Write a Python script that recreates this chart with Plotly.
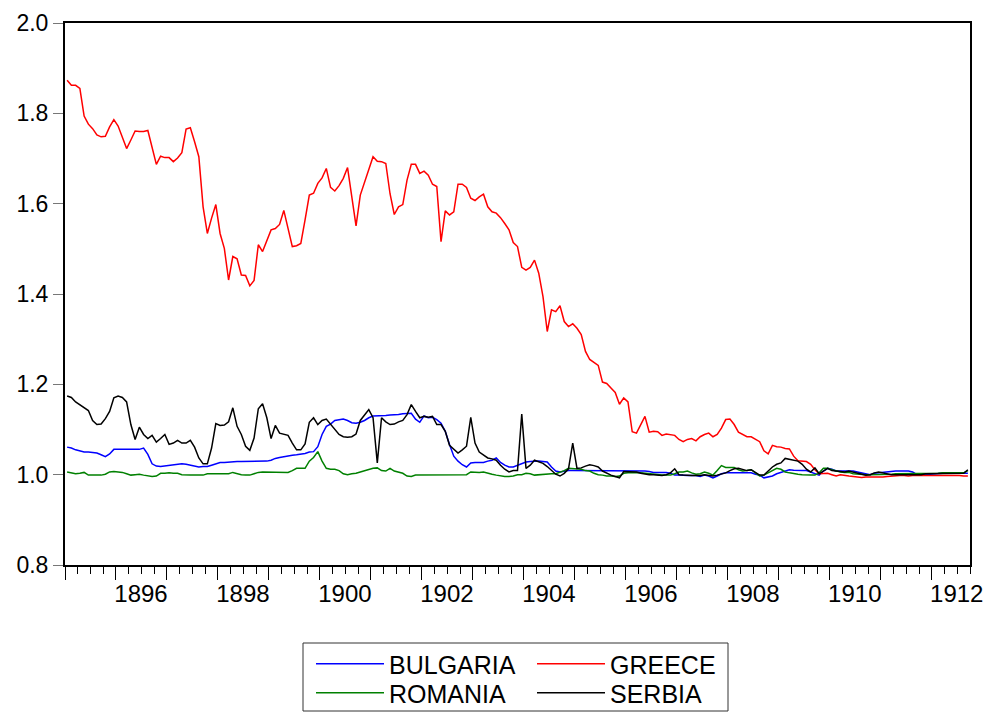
import plotly.graph_objects as go
import pandas as pd

# Monthly observations, 1895M01 - 1912M09
start_month = "1895-01"
end_month = "1912-09"

bulgaria = [
    1.061, 1.059, 1.055, 1.053, 1.050, 1.050, 1.049, 1.048, 1.044, 1.040, 1.046, 1.056,
    1.056, 1.056, 1.056, 1.056, 1.056, 1.056, 1.059, 1.045, 1.024, 1.019, 1.018, 1.019,
    1.021, 1.022, 1.023, 1.024, 1.023, 1.021, 1.019, 1.017, 1.018, 1.018, 1.021, 1.024,
    1.027, 1.027, 1.028, 1.029, 1.029, 1.029, 1.029, 1.029, 1.029, 1.029, 1.029, 1.030,
    1.032, 1.036, 1.038, 1.040, 1.041, 1.043, 1.044, 1.045, 1.047, 1.050, 1.051, 1.062,
    1.089, 1.107, 1.112, 1.120, 1.122, 1.123, 1.120, 1.115, 1.114, 1.116, 1.120, 1.126,
    1.130, 1.130, 1.130, 1.131, 1.132, 1.132, 1.133, 1.135, 1.136, 1.136, 1.123, 1.116,
    1.130, 1.126, 1.127, 1.122, 1.114, 1.096, 1.067, 1.041, 1.030, 1.022, 1.017, 1.026,
    1.027, 1.027, 1.027, 1.030, 1.032, 1.037, 1.027, 1.021, 1.017, 1.017, 1.021, 1.024,
    1.028, 1.029, 1.030, 1.030, 1.029, 1.028, 1.017, 1.008, 1.006, 1.008, 1.009, 1.009,
    1.009, 1.009, 1.009, 1.009, 1.009, 1.009, 1.009, 1.009, 1.009, 1.009, 1.009, 1.009,
    1.008, 1.008, 1.008, 1.008, 1.008, 1.007, 1.005, 1.005, 1.005, 1.005, 1.003, 0.999,
    0.999, 0.998, 0.998, 0.998, 0.998, 0.996, 0.999, 0.997, 0.993, 0.997, 1.002, 1.004,
    1.004, 1.004, 1.004, 1.004, 1.004, 1.004, 1.001, 0.999, 0.993, 0.995, 0.997, 1.002,
    1.005, 1.008, 1.011, 1.010, 1.009, 1.009, 1.009, 1.006, 1.002, 0.999, 1.008, 1.014,
    1.012, 1.008, 1.008, 1.008, 1.008, 1.008, 1.006, 1.004, 1.002, 1.000, 1.003, 1.004,
    1.005, 1.006, 1.008, 1.008, 1.008, 1.008, 1.008, 1.006, 1.000, 0.999, 1.000, 1.000,
    1.001, 1.002, 1.003, 1.003, 1.003, 1.003, 1.003, 1.003, 1.003,
]

greece = [
    1.873, 1.862, 1.862, 1.855, 1.794, 1.776, 1.766, 1.752, 1.748, 1.749, 1.770, 1.786,
    1.772, 1.748, 1.722, 1.741, 1.761, 1.760, 1.760, 1.762, 1.726, 1.687, 1.705, 1.702,
    1.702, 1.693, 1.701, 1.713, 1.765, 1.768, 1.737, 1.704, 1.593, 1.534, 1.568, 1.598,
    1.534, 1.501, 1.431, 1.483, 1.478, 1.442, 1.441, 1.418, 1.430, 1.509, 1.494, 1.516,
    1.542, 1.545, 1.554, 1.585, 1.545, 1.505, 1.507, 1.512, 1.564, 1.619, 1.623, 1.645,
    1.657, 1.678, 1.636, 1.628, 1.640, 1.656, 1.680, 1.615, 1.551, 1.619, 1.649, 1.676,
    1.704, 1.694, 1.693, 1.689, 1.622, 1.576, 1.593, 1.598, 1.652, 1.687, 1.687, 1.667,
    1.672, 1.663, 1.643, 1.638, 1.516, 1.584, 1.575, 1.582, 1.643, 1.643, 1.636, 1.612,
    1.607, 1.615, 1.621, 1.593, 1.582, 1.579, 1.569, 1.556, 1.542, 1.514, 1.505, 1.459,
    1.453, 1.459, 1.475, 1.446, 1.394, 1.317, 1.365, 1.361, 1.374, 1.339, 1.328, 1.334,
    1.324, 1.310, 1.273, 1.255, 1.249, 1.242, 1.205, 1.202, 1.192, 1.182, 1.156, 1.170,
    1.161, 1.095, 1.092, 1.111, 1.129, 1.094, 1.096, 1.095, 1.087, 1.090, 1.089, 1.087,
    1.078, 1.073, 1.078, 1.080, 1.075, 1.084, 1.089, 1.092, 1.084, 1.089, 1.103, 1.122,
    1.123, 1.111, 1.094, 1.089, 1.084, 1.084, 1.079, 1.073, 1.053, 1.046, 1.065, 1.062,
    1.061, 1.058, 1.057, 1.041, 1.031, 1.030, 1.029, 1.023, 1.011, 1.002, 1.002, 1.003,
    1.000, 0.997, 1.000, 0.998, 0.997, 0.996, 0.995, 0.994, 0.995, 0.995, 0.994, 0.994,
    0.995, 0.996, 0.997, 0.997, 0.998, 0.998, 0.997, 0.998, 0.998, 0.998, 0.999, 0.998,
    0.998, 0.998, 0.999, 0.998, 0.998, 0.998, 0.998, 0.997, 0.997,
]

romania = [
    1.006, 1.004, 1.002, 1.003, 1.005, 0.999, 0.999, 0.999, 0.999, 1.001, 1.006, 1.007,
    1.006, 1.005, 1.002, 0.999, 1.000, 1.001, 0.999, 0.997, 0.996, 0.997, 1.003, 1.003,
    1.004, 1.003, 1.003, 1.000, 0.999, 0.999, 0.999, 0.999, 0.999, 1.002, 1.002, 1.003,
    1.003, 1.003, 1.002, 1.005, 1.002, 1.000, 0.999, 0.999, 1.002, 1.005, 1.006, 1.006,
    1.006, 1.006, 1.006, 1.005, 1.005, 1.009, 1.014, 1.014, 1.014, 1.030, 1.038, 1.051,
    1.030, 1.014, 1.012, 1.012, 1.009, 1.002, 1.000, 1.002, 1.003, 1.006, 1.009, 1.012,
    1.014, 1.015, 1.009, 1.008, 1.014, 1.008, 1.006, 1.003, 0.997, 0.996, 0.999, 0.999,
    0.999, 0.999, 0.999, 0.999, 0.999, 0.999, 0.999, 0.999, 0.999, 0.999, 1.000, 1.006,
    1.005, 1.005, 1.006, 1.003, 1.001, 0.999, 0.997, 0.996, 0.996, 0.997, 1.000, 1.000,
    1.003, 1.002, 0.999, 1.000, 1.001, 1.002, 1.002, 1.002, 1.005, 1.009, 1.014, 1.013,
    1.012, 1.012, 1.009, 1.008, 1.003, 1.000, 0.999, 0.997, 0.997, 0.996, 0.997, 1.003,
    1.004, 1.005, 1.005, 1.004, 1.003, 1.002, 1.000, 0.999, 0.999, 0.999, 0.999, 1.002,
    1.006, 1.006, 1.008, 1.004, 1.001, 1.002, 1.006, 1.003, 0.999, 1.009, 1.020, 1.016,
    1.016, 1.016, 1.011, 1.008, 1.009, 1.011, 1.004, 0.997, 0.999, 1.004, 1.009, 1.014,
    1.012, 1.006, 1.004, 1.002, 1.001, 1.000, 0.999, 0.999, 0.999, 1.004, 1.014, 1.014,
    1.011, 1.008, 1.006, 1.005, 1.005, 1.002, 1.001, 1.000, 1.000, 1.000, 1.000, 1.000,
    1.001, 1.001, 1.001, 1.002, 1.002, 1.002, 1.002, 1.002, 1.002, 1.002, 1.003, 1.003,
    1.003, 1.003, 1.004, 1.004, 1.004, 1.004, 1.004, 1.004, 1.009,
]

serbia = [
    1.174, 1.171, 1.161, 1.155, 1.149, 1.142, 1.120, 1.111, 1.112, 1.124, 1.140, 1.170,
    1.174, 1.171, 1.161, 1.111, 1.078, 1.105, 1.089, 1.080, 1.087, 1.072, 1.080, 1.089,
    1.067, 1.070, 1.076, 1.070, 1.070, 1.076, 1.061, 1.037, 1.024, 1.024, 1.059, 1.113,
    1.109, 1.110, 1.117, 1.148, 1.107, 1.089, 1.063, 1.054, 1.081, 1.146, 1.157, 1.126,
    1.080, 1.109, 1.092, 1.089, 1.087, 1.070, 1.055, 1.055, 1.068, 1.116, 1.126, 1.111,
    1.120, 1.123, 1.111, 1.100, 1.089, 1.084, 1.083, 1.084, 1.090, 1.120, 1.133, 1.144,
    1.126, 1.026, 1.126, 1.117, 1.111, 1.112, 1.117, 1.120, 1.133, 1.155, 1.140, 1.126,
    1.129, 1.127, 1.129, 1.111, 1.111, 1.096, 1.065, 1.056, 1.048, 1.055, 1.063, 1.127,
    1.070, 1.050, 1.043, 1.037, 1.035, 1.032, 1.021, 1.012, 1.006, 1.009, 1.009, 1.134,
    1.014, 1.021, 1.032, 1.029, 1.025, 1.018, 1.010, 1.001, 0.997, 1.003, 1.013, 1.070,
    1.014, 1.015, 1.019, 1.022, 1.020, 1.017, 1.008, 1.003, 0.999, 0.996, 0.993, 1.007,
    1.007, 1.006, 1.006, 1.003, 1.001, 1.000, 1.000, 0.999, 0.998, 1.000, 1.004, 1.013,
    1.000, 0.999, 0.998, 0.998, 0.998, 0.998, 1.000, 0.999, 0.997, 0.999, 1.002, 1.004,
    1.009, 1.013, 1.014, 1.012, 1.009, 1.011, 1.004, 0.999, 0.999, 1.009, 1.017, 1.023,
    1.026, 1.036, 1.034, 1.032, 1.030, 1.023, 1.012, 1.006, 1.015, 1.002, 1.008, 1.014,
    1.009, 1.008, 1.006, 1.006, 1.008, 1.006, 1.004, 1.001, 0.999, 1.000, 1.004, 1.006,
    1.004, 1.002, 1.000, 1.000, 1.000, 1.000, 1.000, 1.000, 1.000, 1.000, 1.002, 1.002,
    1.002, 1.003, 1.003, 1.003, 1.003, 1.003, 1.003, 1.003, 1.011,
]

year_labels = ["1896", "1898", "1900", "1902", "1904", "1906", "1908", "1910", "1912"]
y_ticks = [0.8, 1.0, 1.2, 1.4, 1.6, 1.8, 2.0]

# decimal-year position of each month (middle of the month)
periods = pd.period_range(start_month, end_month, freq="M")
x = [p.year + (p.month - 0.5) / 12 for p in periods]

first_year = periods[0].year
last_year = periods[-1].year
x_end = periods[-1].year + periods[-1].month / 12
year_ticks = list(range(first_year, last_year + 1))
year_text = [str(y) if str(y) in year_labels else "" for y in year_ticks]

FONT = "Arial, Liberation Sans, sans-serif"
W, H = 989, 713
ML, MR, MT, MB = 65, 19, 23, 148
PW, PH = W - ML - MR, H - MT - MB

fig = go.Figure()
# name, values, colour, legend id, legend entry position (px in page)
series = [
    ("BULGARIA", bulgaria, "#0000FF", "legend", (311, 664)),
    ("GREECE", greece, "#FF0000", "legend2", (532, 664)),
    ("ROMANIA", romania, "#008000", "legend3", (311, 693)),
    ("SERBIA", serbia, "#000000", "legend4", (532, 693)),
]
legend_layouts = {}
for name, vals, color, leg, (lx, ly) in series:
    fig.add_trace(go.Scatter(
        x=x, y=vals, mode="lines", name=name, legend=leg,
        line=dict(color=color, width=1.5),
    ))
    legend_layouts[leg] = dict(
        xref="container", yref="container",
        x=lx / W, y=1 - ly / H, xanchor="left", yanchor="middle",
        borderwidth=0, bgcolor="rgba(0,0,0,0)",
        font=dict(size=25, family=FONT, color="black"),
        itemwidth=68,
    )

fig.update_layout(
    width=W, height=H,
    paper_bgcolor="white", plot_bgcolor="white",
    margin=dict(l=ML, r=MR, t=MT, b=MB, autoexpand=False),
    font=dict(family=FONT, color="black"),
    showlegend=True,
    **legend_layouts,
)
# frame around the legend entries
fig.add_shape(
    type="rect", xref="paper", yref="paper",
    x0=(303 - ML) / PW, x1=(728 - ML) / PW,
    y0=(H - MB - 643) / PH, y1=(H - MB - 711) / PH,
    line=dict(color="#333333", width=1), fillcolor="rgba(0,0,0,0)",
)
fig.update_xaxes(
    range=[first_year, x_end], automargin=False,
    tickmode="array", tickvals=year_ticks, ticktext=year_text,
    ticklabelshift=25, ticklabelstandoff=-7,
    ticks="outside", ticklen=13, tickcolor="black", tickwidth=1,
    minor=dict(tickmode="linear", tick0=first_year, dtick=0.25, ticks="outside",
               ticklen=7, tickcolor="black", tickwidth=1, showgrid=False),
    showline=True, linecolor="black", linewidth=2, mirror=True,
    showgrid=False, zeroline=False,
    tickfont=dict(size=24, family=FONT),
)
fig.update_yaxes(
    range=[0.8, 2.0], automargin=False,
    tickmode="array", tickvals=y_ticks, tickformat=".1f",
    ticks="outside", ticklen=10, tickcolor="#777777", tickwidth=1,
    showline=True, linecolor="black", linewidth=2, mirror=True,
    showgrid=False, zeroline=False,
    tickfont=dict(size=23, family=FONT),
)

fig.write_html(
    "out.html",
    config={"displayModeBar": False},
    post_script="document.body.style.margin='0px';",
)
